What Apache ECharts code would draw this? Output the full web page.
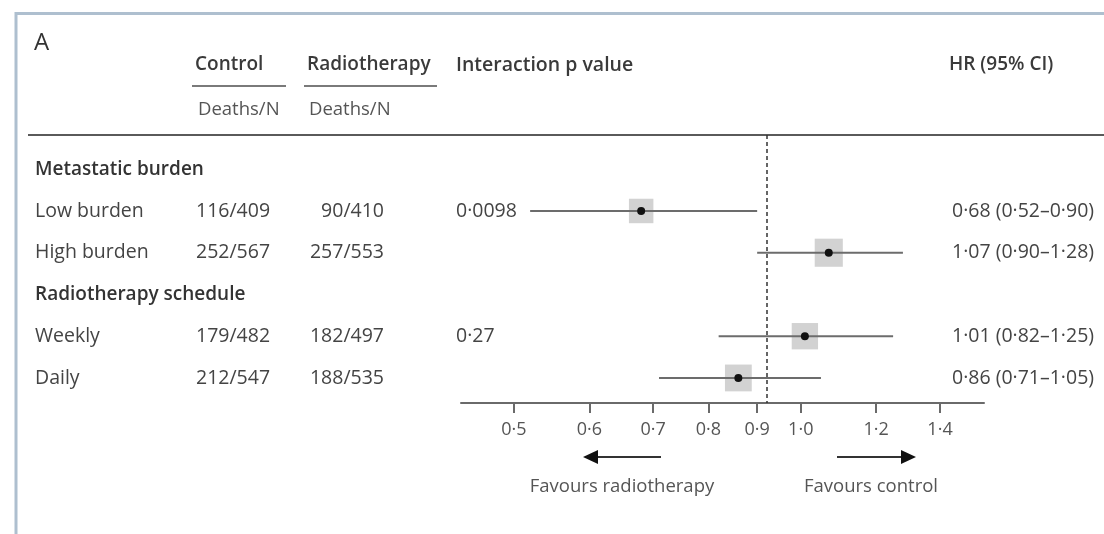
<!DOCTYPE html>
<html>
<head>
<meta charset="utf-8">
<title>Forest plot – metastatic burden and radiotherapy schedule</title>
<script src="https://cdn.jsdelivr.net/npm/echarts@6/dist/echarts.min.js"></script>
<style>
  html, body { margin: 0; padding: 0; background: #ffffff; }
  #chart { width: 1104px; height: 534px; }
</style>
</head>
<body>
<div id="chart"></div>
<script>
// Subgroup table
const groupNames = ['Metastatic burden', 'Radiotherapy schedule'];
const subgroups = ['Low burden', 'High burden', 'Weekly', 'Daily'];
const subgroupGroup = [0, 0, 1, 1];
const controlDeaths = [116, 252, 179, 212];
const controlN = [409, 567, 482, 547];
const rtDeaths = [90, 257, 182, 188];
const rtN = [410, 553, 497, 535];
const interactionP = ['0·0098', '0·27'];

// Hazard ratios with 95% CI
const hr = [0.68, 1.07, 1.01, 0.86];
const ciLow = [0.52, 0.90, 0.82, 0.71];
const ciHigh = [0.90, 1.28, 1.25, 1.05];
const overallHR = 0.92;

// Axis ticks
const tickValues = [0.5, 0.6, 0.7, 0.8, 0.9, 1.0, 1.2, 1.4];
const tickLabels = ['0·5', '0·6', '0·7', '0·8', '0·9', '1·0', '1·2', '1·4'];

const FONT = '"Open Sans", "Noto Sans", sans-serif';
const fmt = v => v.toFixed(2).replace('.', '·');

// Lay out table rows: group heading followed by its subgroups
const rows = [];
groupNames.forEach((g, gi) => {
  rows.push({ kind: 'group', label: g });
  subgroups.forEach((s, si) => {
    if (subgroupGroup[si] === gi) {
      const first = rows[rows.length - 1].kind === 'group';
      rows.push({ kind: 'sub', idx: si, label: s, p: first ? interactionP[gi] : '' });
    }
  });
});

const forestData = [];
const tableData = [];
rows.forEach((r, ri) => {
  tableData.push([1, ri]);
  if (r.kind === 'sub') {
    const i = r.idx;
    forestData.push([hr[i], ciLow[i], ciHigh[i], ri, controlDeaths[i] + rtDeaths[i]]);
  }
});

const chart = echarts.init(document.getElementById('chart'), null, { renderer: 'canvas' });

function txt(text, x, y, opts) {
  return {
    type: 'text',
    style: Object.assign({
      text: text, x: x, y: y,
      font: '19px ' + FONT,
      fill: '#454545',
      textAlign: 'left',
      textVerticalAlign: 'middle'
    }, opts || {})
  };
}

const option = {
  backgroundColor: '#ffffff',
  animation: false,
  grid: { left: 461, right: 120, top: 135, bottom: 131, containLabel: false },
  xAxis: {
    type: 'log',
    min: 0.44,
    max: 1.557,
    axisLine: { show: true, onZero: false, lineStyle: { color: '#6a6a6a', width: 2 } },
    axisTick: { show: true, customValues: tickValues, length: 10, inside: false,
      lineStyle: { color: '#6a6a6a', width: 2 } },
    axisLabel: {
      customValues: tickValues,
      margin: 18,
      color: '#555555',
      fontFamily: FONT,
      fontSize: 18,
      formatter: v => {
        const k = tickValues.findIndex(t => Math.abs(t - v) < 1e-6);
        return k >= 0 ? tickLabels[k] : '';
      }
    },
    splitLine: { show: false },
    minorTick: { show: false }
  },
  yAxis: {
    type: 'value',
    inverse: true,
    min: -0.82,
    max: 5.6,
    show: false
  },
  graphic: [
    // panel frame
    { type: 'polyline', shape: { points: [[16, 540], [16, 13.5], [1110, 13.5]] },
      style: { stroke: '#aebfcf', lineWidth: 3, fill: null } },
    txt('A', 34, 43, { font: '24px ' + FONT, fill: '#333333' }),
    txt('Control', 195, 65, { font: '600 19px ' + FONT, fill: '#3a3a3a' }),
    txt('Radiotherapy', 307, 65, { font: '600 19px ' + FONT, fill: '#3a3a3a' }),
    txt('Interaction p value', 456, 65, { font: '600 19.5px ' + FONT, fill: '#3a3a3a' }),
    txt('HR (95% CI)', 949, 65, { font: '600 19px ' + FONT, fill: '#3a3a3a' }),
    { type: 'line', shape: { x1: 192, y1: 86, x2: 286, y2: 86 },
      style: { stroke: '#7a7a7a', lineWidth: 2 } },
    { type: 'line', shape: { x1: 304, y1: 86, x2: 437, y2: 86 },
      style: { stroke: '#7a7a7a', lineWidth: 2 } },
    txt('Deaths/N', 198, 110, { font: '18.5px ' + FONT, fill: '#555555' }),
    txt('Deaths/N', 309, 110, { font: '18.5px ' + FONT, fill: '#555555' }),
    { type: 'line', shape: { x1: 28, y1: 135, x2: 1104, y2: 135 },
      style: { stroke: '#5a5a5a', lineWidth: 2 } },
    // direction arrows
    { type: 'line', shape: { x1: 596, y1: 457, x2: 661, y2: 457 },
      style: { stroke: '#333333', lineWidth: 2 } },
    { type: 'polygon', shape: { points: [[583, 457], [598, 450], [598, 464]] },
      style: { fill: '#111111' } },
    { type: 'line', shape: { x1: 837, y1: 457, x2: 903, y2: 457 },
      style: { stroke: '#333333', lineWidth: 2 } },
    { type: 'polygon', shape: { points: [[916, 457], [901, 450], [901, 464]] },
      style: { fill: '#111111' } },
    txt('Favours radiotherapy', 622, 487, { font: '18.5px ' + FONT, fill: '#555555', textAlign: 'center' }),
    txt('Favours control', 871, 487, { font: '18.5px ' + FONT, fill: '#555555', textAlign: 'center' })
  ],
  series: [
    {
      name: 'HR',
      type: 'custom',
      clip: false,
      encode: { x: [0, 1, 2], y: 3 },
      data: forestData,
      renderItem: function (params, api) {
        const row = api.value(3);
        const c = api.coord([api.value(0), row]);
        const lo = api.coord([api.value(1), row]);
        const hi = api.coord([api.value(2), row]);
        const s = 22 + api.value(4) * 0.012;
        return {
          type: 'group',
          children: [
            { type: 'rect', shape: { x: c[0] - s / 2, y: c[1] - s / 2, width: s, height: s },
              style: { fill: '#d2d2d2' } },
            { type: 'line', shape: { x1: lo[0], y1: c[1], x2: hi[0], y2: c[1] },
              style: { stroke: '#6c6c6c', lineWidth: 2 } },
            { type: 'circle', shape: { cx: c[0], cy: c[1], r: 4 },
              style: { fill: '#111111' } }
          ]
        };
      },
      markLine: {
        silent: true,
        symbol: 'none',
        label: { show: false },
        lineStyle: { color: '#333333', type: [4, 3], width: 1.5 },
        data: [{ xAxis: overallHR }]
      },
      z: 3
    },
    {
      name: 'table',
      type: 'custom',
      clip: false,
      silent: true,
      encode: { x: 0, y: 1 },
      data: tableData,
      renderItem: function (params, api) {
        const r = rows[params.dataIndex];
        const y = api.coord([1, api.value(1)])[1];
        const body = { font: '19.5px ' + FONT, fill: '#444444', textVerticalAlign: 'middle' };
        if (r.kind === 'group') {
          return { type: 'text', style: Object.assign({}, body,
            { text: r.label, x: 35, y: y, font: '600 19px ' + FONT, fill: '#333333' }) };
        }
        const i = r.idx;
        const kids = [
          { type: 'text', style: Object.assign({}, body, { text: r.label, x: 35, y: y }) },
          { type: 'text', style: Object.assign({}, body,
            { text: controlDeaths[i] + '/' + controlN[i], x: 196, y: y }) },
          { type: 'text', style: Object.assign({}, body,
            { text: rtDeaths[i] + '/' + rtN[i], x: 384, y: y, textAlign: 'right' }) },
          { type: 'text', style: Object.assign({}, body,
            { text: fmt(hr[i]) + ' (' + fmt(ciLow[i]) + '–' + fmt(ciHigh[i]) + ')', x: 952, y: y }) }
        ];
        if (r.p) {
          kids.push({ type: 'text', style: Object.assign({}, body, { text: r.p, x: 456, y: y }) });
        }
        return { type: 'group', children: kids };
      },
      z: 2
    }
  ]
};

chart.setOption(option);
</script>
</body>
</html>
